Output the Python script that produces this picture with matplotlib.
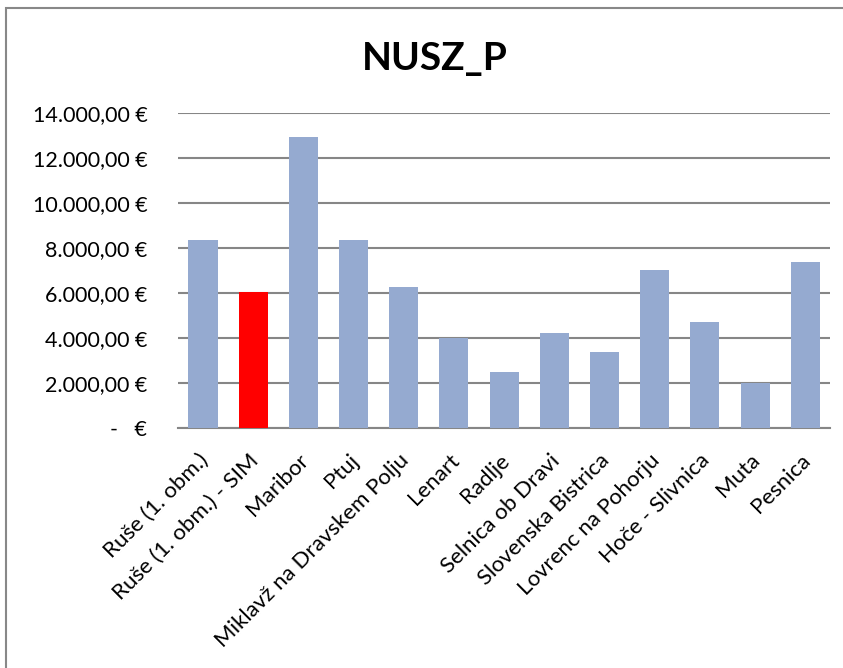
import matplotlib.pyplot as plt
from matplotlib.patches import Rectangle
from matplotlib.ticker import FuncFormatter
from matplotlib.transforms import ScaledTranslation

plt.rcParams['font.family'] = ['Lato', 'DejaVu Sans']

# municipalities and NUSZ_P values (EUR)
municipalities = ['Ruše (1. obm.)', 'Ruše (1. obm.) - SIM', 'Maribor', 'Ptuj',
                  'Miklavž na Dravskem Polju', 'Lenart', 'Radlje', 'Selnica ob Dravi',
                  'Slovenska Bistrica', 'Lovrenc na Pohorju', 'Hoče - Slivnica',
                  'Muta', 'Pesnica']
values = [8350, 6040, 12940, 8350, 6270, 4000, 2480, 4220, 3380, 7020, 4710, 2000, 7380]
highlight = 'Ruše (1. obm.) - SIM'

yticks = [0, 2000, 4000, 6000, 8000, 10000, 12000, 14000]


def euro(v, pos=None):
    # Slovene accounting style: 14.000,00 €, zero shown as a dash
    if v == 0:
        return '-   €'
    s = f'{v:,.2f}'.replace(',', 'X').replace('.', ',').replace('X', '.')
    return s + ' €'


fig = plt.figure(figsize=(8.43, 6.68), dpi=100)
ax = fig.add_axes([0.211, 0.3593, 0.774, 0.4715])

colors = ['#ff0000' if m == highlight else '#95aad0' for m in municipalities]
ax.bar(range(len(values)), values, width=0.58, color=colors, zorder=3)

ax.set_xlim(-0.5, len(values) - 0.5)
ax.set_ylim(0, 14000)
ax.set_yticks(yticks)
ax.yaxis.set_major_formatter(FuncFormatter(euro))
ax.yaxis.grid(True, color='#868686', linewidth=1.5, zorder=0)
ax.set_axisbelow(True)

for s in ['top', 'right', 'left']:
    ax.spines[s].set_visible(False)
ax.spines['bottom'].set_color('#868686')
ax.spines['bottom'].set_linewidth(1.5)

ax.set_xticks(range(len(values)))
ax.set_xticklabels(municipalities, rotation=45, ha='right', rotation_mode='anchor',
                   fontsize=16)
ax.tick_params(axis='x', length=0, pad=16)
ax.tick_params(axis='y', length=0, pad=22, labelsize=15.5)
# small horizontal nudge of the slanted labels
shift = ScaledTranslation(-5 / 100, 0, fig.dpi_scale_trans)
for lab in ax.get_xticklabels():
    lab.set_transform(lab.get_transform() + shift)

fig.text(0.516, 0.913, 'NUSZ_P', ha='center', va='center', fontsize=28,
         fontweight='bold')

# outer chart frame (cut off at right and bottom)
fig.patches.append(Rectangle((6 / 843, -0.1), 1.2, 1.088, transform=fig.transFigure,
                             fill=False, edgecolor='#888888', linewidth=1.5))

fig.savefig('out.png', dpi=100)
